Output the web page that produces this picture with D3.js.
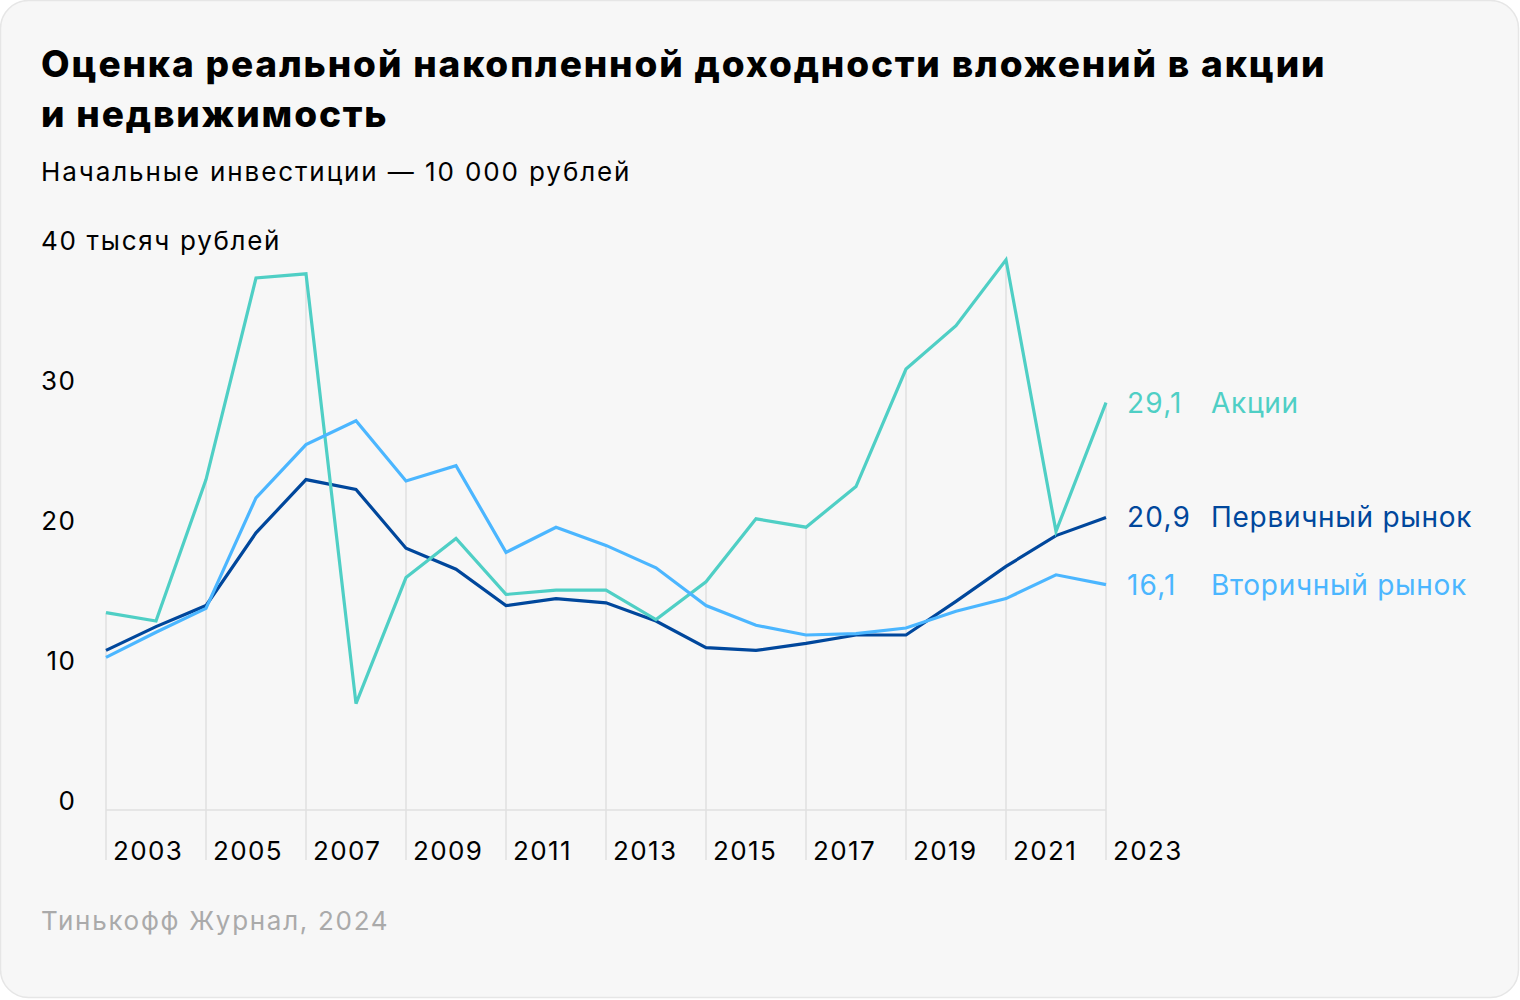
<!DOCTYPE html>
<html><head><meta charset="utf-8">
<script src="https://cdn.jsdelivr.net/npm/d3@7"></script>
<style>
body{margin:0;background:#fff;}
svg{display:block;font-family:Inter,Roboto,"Noto Sans",sans-serif;}
</style></head>
<body><svg id="c" width="1520" height="1000"></svg>
<script>
const years = d3.range(2003, 2024);
const stocks    = [14.1,13.5,23.6,38.0,38.3,7.6,16.6,19.4,15.4,15.7,15.7,13.6,16.3,20.8,20.2,23.1,31.5,34.6,39.3,19.9,29.1];
const primary   = [11.4,13.1,14.6,19.8,23.6,22.9,18.7,17.2,14.6,15.1,14.8,13.5,11.6,11.4,11.9,12.5,12.5,14.9,17.4,19.6,20.9];
const secondary = [10.9,12.7,14.4,22.3,26.1,27.8,23.5,24.6,18.4,20.2,18.9,17.3,14.6,13.2,12.5,12.6,13.0,14.2,15.1,16.8,16.1];
const seriesNames = ["Первичный рынок","Акции","Вторичный рынок"];
const seriesValues = [primary, stocks, secondary];
const seriesColors = ["#00479c","#4fcfc5","#4bb6ff"];
const endLabels = ["20,9","29,1","16,1"];
const xTickYears = [2003,2005,2007,2009,2011,2013,2015,2017,2019,2021,2023];
const yTicks = [0,10,20,30,40];

const svg = d3.select("#c");
svg.append("rect").attr("x",0.5).attr("y",0.5).attr("width",1518).attr("height",997)
  .attr("rx",28).attr("fill","#f7f7f7").attr("stroke","#e6e6e6").attr("stroke-width",1.5);

const x = d3.scaleLinear().domain([2003,2023]).range([106,1106]);
const y = d3.scaleLinear().domain([0,40]).range([810,250]);

// title
const titleLines = ["Оценка реальной накопленной доходности вложений в акции","и недвижимость"];
titleLines.forEach((t,i)=>{
  svg.append("text").attr("x",41).attr("y",77+i*50).attr("font-size",37).attr("font-weight",800)
    .attr("letter-spacing",1.85).attr("fill","#000").text(t);
});
svg.append("text").attr("x",41).attr("y",181).attr("font-size",26).attr("letter-spacing",1.9).attr("fill","#000")
  .text("Начальные инвестиции — 10 000 рублей");

// drop lines
const g = svg.append("g");
xTickYears.forEach(yr=>{
  const i = years.indexOf(yr);
  const top = d3.max(seriesValues, s=>s[i]);
  g.append("line").attr("x1",x(yr)).attr("x2",x(yr)).attr("y1",y(top)).attr("y2",860)
    .attr("stroke","#e0e0e0").attr("stroke-width",1.5);
});
g.append("line").attr("x1",x(2003)).attr("x2",x(2023)).attr("y1",y(0)).attr("y2",y(0))
  .attr("stroke","#e0e0e0").attr("stroke-width",1.5);

// x labels
xTickYears.forEach(yr=>{
  svg.append("text").attr("x",x(yr)+7).attr("y",860).attr("font-size",26).attr("letter-spacing",1.4)
    .attr("fill","#000").text(yr);
});
// y labels
yTicks.forEach(v=>{
  if(v===40){
    svg.append("text").attr("x",41).attr("y",y(v)).attr("font-size",26).attr("letter-spacing",1.7)
      .attr("fill","#000").text("40 тысяч рублей");
  } else {
    svg.append("text").attr("x",76.5).attr("y",y(v)).attr("text-anchor","end").attr("font-size",26)
      .attr("letter-spacing",1.5).attr("fill","#000").text(v);
  }
});

// lines
const line = d3.line().x((d,i)=>x(years[i])).y(d=>y(d));
seriesValues.forEach((s,k)=>{
  svg.append("path").datum(s).attr("d",line).attr("fill","none")
    .attr("stroke",seriesColors[k]).attr("stroke-width",3.2).attr("stroke-linejoin","miter");
});
// end labels
seriesValues.forEach((s,k)=>{
  const yy = y(s[s.length-1]);
  svg.append("text").attr("x",1127).attr("y",yy).attr("dy","0.36em").attr("font-size",28)
    .attr("letter-spacing",1.2).attr("fill",seriesColors[k]).text(endLabels[k]);
  svg.append("text").attr("x",1211).attr("y",yy).attr("dy","0.36em").attr("font-size",28)
    .attr("letter-spacing",0.7).attr("fill",seriesColors[k]).text(seriesNames[k]);
});

svg.append("text").attr("x",41).attr("y",930).attr("font-size",26).attr("letter-spacing",1.7)
  .attr("fill","#aaaaaa").text("Тинькофф Журнал, 2024");
</script></body></html>
